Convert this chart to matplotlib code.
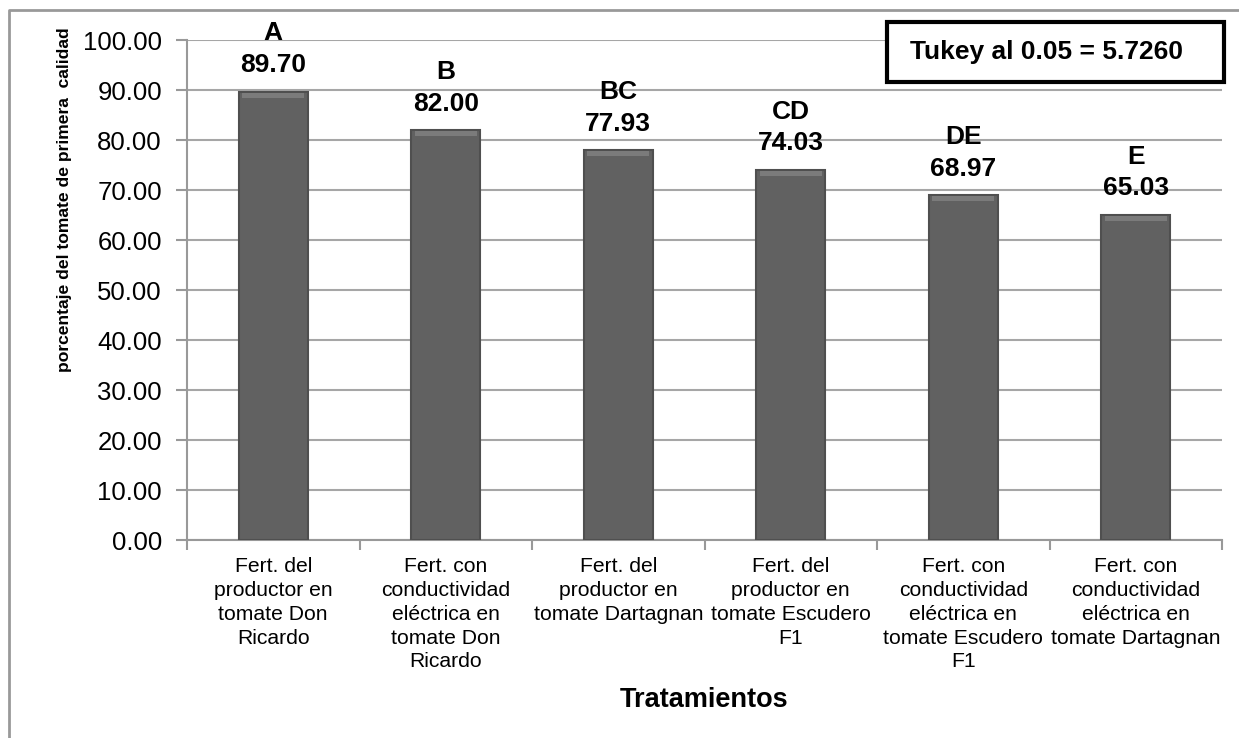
import numpy as np
import matplotlib.pyplot as plt
from matplotlib.patches import Rectangle

plt.rcParams['font.family'] = ['Liberation Sans', 'DejaVu Sans']

categorias = [
    "Fert. del\nproductor en\ntomate Don\nRicardo",
    "Fert. con\nconductividad\neléctrica en\ntomate Don\nRicardo",
    "Fert. del\nproductor en\ntomate Dartagnan",
    "Fert. del\nproductor en\ntomate Escudero\nF1",
    "Fert. con\nconductividad\neléctrica en\ntomate Escudero\nF1",
    "Fert. con\nconductividad\neléctrica en\ntomate Dartagnan",
]
valores = [89.70, 82.00, 77.93, 74.03, 68.97, 65.03]
letras = ["A", "B", "BC", "CD", "DE", "E"]
yticks = [0, 10, 20, 30, 40, 50, 60, 70, 80, 90, 100]

fig = plt.figure(figsize=(12.39, 7.38), dpi=100)
ax = fig.add_axes([187 / 1239, 1 - 540 / 738, (1222 - 187) / 1239, 500 / 738])

x = np.arange(len(valores))
ancho = 0.40

ax.set_axisbelow(True)
ax.yaxis.grid(True, color="#a6a6a6", linewidth=1.5)

# barras con un poco de relieve
ax.bar(x, valores, width=ancho, color="#616161", edgecolor="#4f4f4f", linewidth=1.5, zorder=3)
ax.bar(x, [1.0] * len(valores), bottom=np.array(valores) - 1.2, width=ancho * 0.9,
       color="#7b7b7b", linewidth=0, zorder=4)

for xi, v, l in zip(x, valores, letras):
    ax.annotate(f"{v:.2f}", (xi, v), xytext=(0, 19), textcoords="offset points",
                ha="center", va="center", fontsize=19, fontweight="bold")
    ax.annotate(l, (xi, v), xytext=(0, 42), textcoords="offset points",
                ha="center", va="center", fontsize=19, fontweight="bold")

ax.set_xlim(-0.5, len(valores) - 0.5)
ax.set_ylim(0, 100)
ax.set_yticks(yticks)
ax.set_yticklabels([f"{t:.2f}" for t in yticks], fontsize=18.5)

ax.set_xticks(x)
ax.set_xticklabels(categorias, fontsize=15.2, linespacing=1.33)
ax.set_xticks(np.arange(len(valores) + 1) - 0.5, minor=True)
ax.tick_params(axis="x", which="major", length=0, pad=12)
ax.tick_params(axis="x", which="minor", length=7, color="#999999", width=1.5)
ax.tick_params(axis="y", length=8, color="#999999", width=1.5, pad=10)

for s in ["top", "right"]:
    ax.spines[s].set_visible(False)
for s in ["left", "bottom"]:
    ax.spines[s].set_color("#999999")
    ax.spines[s].set_linewidth(1.5)

ax.set_ylabel("porcentaje del tomate de primera  calidad", fontsize=12.6,
              fontweight="bold")
ax.yaxis.set_label_coords(-0.111, 0.68)
ax.set_xlabel("Tratamientos", fontsize=19.5, fontweight="bold")
ax.xaxis.set_label_coords(0.5, -0.294)

# cuadro Tukey
fig.patches.append(Rectangle((887 / 1239, 1 - 82 / 738), (1224 - 887) / 1239, 60 / 738,
                             transform=fig.transFigure, facecolor="white",
                             edgecolor="black", linewidth=3, zorder=5))
fig.text(1047 / 1239, 1 - 52 / 738, "Tukey al 0.05 = 5.7260",
         ha="center", va="center", fontsize=19, fontweight="bold", zorder=6)

# marco del grafico
fig.add_artist(plt.Line2D([9 / 1239, 9 / 1239, 1], [0, 1 - 10 / 738, 1 - 10 / 738],
                          transform=fig.transFigure, color="#999999", linewidth=2))

fig.savefig("out.png", dpi=100)
